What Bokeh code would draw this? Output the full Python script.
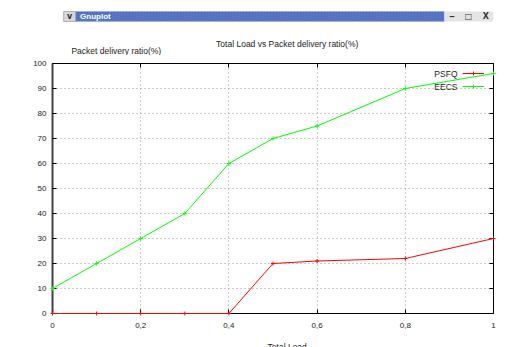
from bokeh.plotting import figure
from bokeh.models import Range1d, Label, Legend, LegendItem, LinearAxis, FixedTicker
from bokeh.layouts import column
from bokeh.embed import file_html
from bokeh.resources import INLINE
from bokeh.core.properties import value

# ---- data ----
load = [0, 0.1, 0.2, 0.3, 0.4, 0.5, 0.6, 0.8, 1.0]
psfq = [0, 0, 0, 0, 0, 20, 21, 22, 30]
eecs = [10, 20, 30, 40, 60, 70, 75, 90, 96]
x_ticks = [0, 0.2, 0.4, 0.6, 0.8, 1.0]
x_tick_labels = ["0", "0,2", "0,4", "0,6", "0,8", "1"]
y_ticks = [0, 10, 20, 30, 40, 50, 60, 70, 80, 90, 100]
series_names = ["PSFQ", "EECS"]
series_colors = ["#ff0000", "#00ff00"]
chart_title = "Total Load vs Packet delivery ratio(%)"
y_title = "Packet delivery ratio(%)"
x_title = "Total Load"

FONT = "Liberation Sans"
TXT = "#222222"


def blank(fig):
    fig.axis.visible = False
    fig.grid.visible = False
    fig.outline_line_color = None
    fig.background_fill_color = "white"
    fig.border_fill_color = "white"


# ---- window header (title bar + chart title + y label), page-pixel coordinates ----
hdr = figure(width=512, height=55, output_backend="svg", toolbar_location=None,
             x_range=Range1d(0, 512), y_range=Range1d(55, 0),
             min_border_left=0, min_border_right=0, min_border_top=0, min_border_bottom=0)
blank(hdr)
hdr.quad(left=[13], right=[27], top=[11], bottom=[21], fill_color="#d8d8d8", line_color="#b0b0b0")
hdr.quad(left=[27], right=[455], top=[11], bottom=[21], fill_color="#4c6bbd", line_color=None,
         hatch_pattern="right_diagonal_line", hatch_color="#7089cc", hatch_scale=3, hatch_weight=1,
         hatch_alpha=0.5)
hdr.quad(left=[455], right=[512], top=[11], bottom=[21], fill_color="#e4e4e4", line_color=None)
hdr.text(x=[20], y=[16], text=["v"], text_font=value("DejaVu Sans"), text_font_style="bold",
         text_font_size="8px", text_align="center", text_baseline="middle", text_color="#333333")
hdr.text(x=[32], y=[16], text=["Gnuplot"], text_font=value(FONT), text_font_style="bold",
         text_font_size="8px", text_align="left", text_baseline="middle", text_color="white")
hdr.text(x=[464, 483, 503], y=[16, 16, 16], text=["\u2012", "\u25a1", "X"],
         text_font=value("DejaVu Sans"), text_font_style="bold", text_font_size="8px",
         text_align="center", text_baseline="middle", text_color="#333333")
hdr.text(x=[272.5], y=[43.5], text=[chart_title], text_font=value(FONT), text_font_size="8.5px",
         text_align="center", text_baseline="middle", text_color=TXT)
hdr.text(x=[22], y=[50.5], text=[y_title], text_font=value(FONT), text_font_size="8.5px",
         text_align="left", text_baseline="middle", text_color=TXT)

# ---- main plot ----
p = figure(width=512, height=280, output_backend="svg", toolbar_location=None,
           x_range=Range1d(0, 1), y_range=Range1d(0, 100),
           min_border_left=52, min_border_right=19, min_border_top=8, min_border_bottom=22)
p.background_fill_color = "white"
p.border_fill_color = "white"
p.outline_line_color = "black"
p.outline_line_width = 1

p.xaxis.ticker = FixedTicker(ticks=x_ticks)
p.yaxis.ticker = FixedTicker(ticks=y_ticks)
p.xaxis.major_label_overrides = {t: l for t, l in zip(x_ticks, x_tick_labels)}
for ax in p.axis:
    ax.major_tick_in = 4
    ax.major_tick_out = 0
    ax.minor_tick_in = 0
    ax.minor_tick_out = 0
    ax.major_tick_line_color = "black"
    ax.major_label_text_font = FONT
    ax.major_label_text_font_size = "8px"
    ax.major_label_text_color = TXT
p.yaxis.axis_line_width = 2
p.yaxis.axis_line_color = "#404040"
p.xaxis.axis_line_color = "black"
p.yaxis.major_label_standoff = 6
p.xaxis.major_label_standoff = 9

# mirrored inward ticks on the top and right borders (no labels)
for loc, tk in (("above", x_ticks), ("right", y_ticks)):
    ax = LinearAxis(ticker=FixedTicker(ticks=tk), major_tick_in=4, major_tick_out=0,
                    minor_tick_in=0, minor_tick_out=0, major_label_text_font_size="1px",
                    major_label_text_color=None, major_label_standoff=0,
                    axis_line_color="black", major_tick_line_color="black")
    p.add_layout(ax, loc)

for g in (p.xgrid, p.ygrid):
    g.grid_line_color = "#9a9a9a"
    g.grid_line_dash = "1 3"
    g.grid_line_width = 1

r_items = []
for name, ys, col in zip(series_names, [psfq, eecs], series_colors):
    ln = p.line(load, ys, line_color=col, line_width=1, level="overlay")
    sc = p.scatter(load, ys, marker="cross", size=4, line_color=col, line_width=1, level="overlay")
    r_items.append(LegendItem(label=" ", renderers=[ln, sc]))

legend = Legend(items=r_items, location=(410, 222), orientation="vertical",
                glyph_width=22, glyph_height=10, label_height=10, label_width=0,
                label_standoff=0, label_text_font_size="1px", label_text_color=None,
                spacing=3, padding=0, margin=0,
                border_line_color=None, background_fill_alpha=0)
p.add_layout(legend, "center")

for name, yy in zip(series_names, [240, 227]):
    p.add_layout(Label(x=405, y=yy, x_units="screen", y_units="screen", text=name,
                       text_font=FONT, text_font_size="8.5px", text_color=TXT,
                       text_align="right", text_baseline="middle"))

# ---- footer with the x-axis title (cut by the window edge, as in the screenshot) ----
ftr = figure(width=512, height=12, output_backend="svg", toolbar_location=None,
             x_range=Range1d(0, 512), y_range=Range1d(347, 335),
             min_border_left=0, min_border_right=0, min_border_top=0, min_border_bottom=0)
blank(ftr)
ftr.text(x=[272.5], y=[346], text=[x_title], text_font=value(FONT), text_font_size="8.5px",
         text_align="center", text_baseline="middle", text_color=TXT)

layout = column(hdr, p, ftr, spacing=0)
open("out.html", "w").write(file_html(layout, INLINE))
